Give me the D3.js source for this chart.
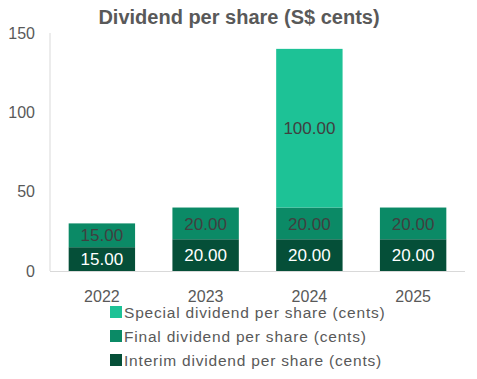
<!DOCTYPE html>
<html>
<head>
<meta charset="utf-8">
<script src="https://cdn.jsdelivr.net/npm/d3@7"></script>
<style>
  body { margin: 0; background: #fff; }
  text { font-family: "Liberation Sans", Arial, sans-serif; }
</style>
</head>
<body>
<div id="graph"></div>
<script>
var years = ["2022", "2023", "2024", "2025"];
var interim = [15, 20, 20, 20];
var finalDiv = [15, 20, 20, 20];
var special = [0, 0, 100, 0];
var seriesNames = ["Interim dividend per share (cents)", "Final dividend per share (cents)", "Special dividend per share (cents)"];
var yTicks = [0, 50, 100, 150];

var colors = ["#054f38", "#0b8a66", "#1dc296"];
var labelColors = ["#ffffff", "#404040", "#404040"];

var width = 477, height = 379;
var margin = { top: 33, right: 12, bottom: 108, left: 50 };

var svg = d3.select("#graph").append("svg")
  .attr("width", width)
  .attr("height", height);

var x = d3.scaleBand()
  .domain(years)
  .range([margin.left, 465])
  .paddingInner(0.36)
  .paddingOuter(0.18);

var y = d3.scaleLinear()
  .domain([0, 150])
  .range([271, 33]);

// title
svg.append("text")
  .attr("x", 239)
  .attr("y", 24)
  .attr("text-anchor", "middle")
  .style("font-size", "20px")
  .style("font-weight", "bold")
  .style("fill", "#595959")
  .text("Dividend per share (S$ cents)");

// stacked data
var rows = years.map(function(yr, i) {
  return { year: yr, interim: interim[i], final: finalDiv[i], special: special[i] };
});
var stack = d3.stack().keys(["interim", "final", "special"]);
var layers = stack(rows);

var g = svg.selectAll(".layer")
  .data(layers)
  .enter().append("g")
  .attr("class", "layer")
  .attr("fill", function(d, i) { return colors[i]; });

g.selectAll("rect")
  .data(function(d) { return d; })
  .enter().append("rect")
  .filter(function(d) { return d[1] - d[0] > 0; })
  .attr("x", function(d) { return x(d.data.year); })
  .attr("y", function(d) { return y(d[1]); })
  .attr("width", x.bandwidth())
  .attr("height", function(d) { return y(d[0]) - y(d[1]); });

// value labels
layers.forEach(function(layer, li) {
  svg.append("g").selectAll("text")
    .data(layer.filter(function(d) { return d[1] - d[0] > 0; }))
    .enter().append("text")
    .attr("x", function(d) { return x(d.data.year) + x.bandwidth() / 2; })
    .attr("y", function(d) { return (y(d[0]) + y(d[1])) / 2; })
    .attr("dy", "0.36em")
    .attr("text-anchor", "middle")
    .style("font-size", "17px")
    .style("fill", labelColors[li])
    .text(function(d) { return (d[1] - d[0]).toFixed(2); });
});

// axes lines
svg.append("line")
  .attr("x1", margin.left).attr("x2", margin.left)
  .attr("y1", y(150)).attr("y2", y(0))
  .attr("stroke", "#d9d9d9").attr("stroke-width", 1);
svg.append("line")
  .attr("x1", margin.left).attr("x2", 465)
  .attr("y1", y(0) + 0.5).attr("y2", y(0) + 0.5)
  .attr("stroke", "#d9d9d9").attr("stroke-width", 1);

// y tick labels
svg.selectAll(".ytick")
  .data(yTicks)
  .enter().append("text")
  .attr("class", "ytick")
  .attr("x", 35)
  .attr("y", function(d) { return y(d); })
  .attr("dy", "0.36em")
  .attr("text-anchor", "end")
  .style("font-size", "16px")
  .style("fill", "#595959")
  .text(function(d) { return d; });

// x tick labels
svg.selectAll(".xtick")
  .data(years)
  .enter().append("text")
  .attr("class", "xtick")
  .attr("x", function(d) { return x(d) + x.bandwidth() / 2; })
  .attr("y", 296)
  .attr("dy", "0.36em")
  .attr("text-anchor", "middle")
  .style("font-size", "16px")
  .style("fill", "#595959")
  .text(function(d) { return d; });

// legend (special on top)
var legendOrder = [2, 1, 0];
var leg = svg.selectAll(".legend")
  .data(legendOrder)
  .enter().append("g")
  .attr("class", "legend")
  .attr("transform", function(d, i) { return "translate(110," + (312 + i * 24) + ")"; });

leg.append("rect")
  .attr("x", 0).attr("y", -6)
  .attr("width", 12).attr("height", 12)
  .attr("fill", function(d) { return colors[d]; });

leg.append("text")
  .attr("x", 14)
  .attr("y", 0)
  .attr("dy", "0.36em")
  .style("font-size", "15.5px")
  .style("letter-spacing", "0.8px")
  .style("fill", "#595959")
  .text(function(d) { return seriesNames[d]; });
</script>
</body>
</html>
